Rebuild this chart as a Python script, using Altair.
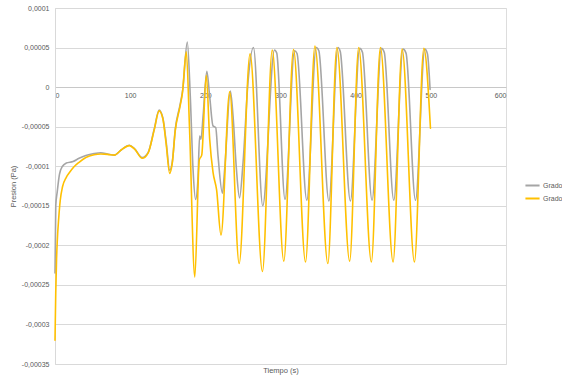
import altair as alt
import pandas as pd

SCALE = 1e-5  # values below are read in units of 1e-5 Pa

g6_t = [0, 1, 3, 6, 10, 15, 24, 32, 41, 52, 61, 70, 79, 88, 99, 106, 116, 124,
        132, 138.5, 143.5, 148, 152.5, 156, 160, 166, 170, 176, 180, 183.6, 187,
        190.2, 192.4, 194.2, 197, 202, 205.8, 210.2, 213.8, 216.9, 222.7, 225.8,
        233.3, 236.9, 241.3, 245.5, 250.2, 257, 264, 276.4, 292, 295, 306,
        318.7, 322, 335, 347.5, 351, 364.4, 376.4, 379.5, 393, 405.3, 409,
        421.8, 434.2, 438, 450.7, 463, 467, 479.6, 492, 495.5, 499]
g6_v = [-23.5, -15, -13.2, -11, -10, -9.6, -9.4, -9.0, -8.65, -8.4, -8.3, -8.45,
        -8.6, -7.95, -7.35, -7.8, -8.9, -8.25, -5.3, -2.9, -3.9, -7, -10.5, -9.5,
        -5.3, -2.4, -0.3, 5.7, -1.2, -10.3, -14.2, -11.6, -6.2, -6.6, -3.7, 2.0,
        -1.2, -4.9, -5.1, -8.7, -13.4, -10.3, -0.5, -3.7, -10.3, -14.0, -9.5,
        0.9, 5.0, -15.0, 4.7, 4.3, -14.2, 4.6, 4.25, -14.3, 5.0, 4.6, -14.4,
        5.0, 4.5, -14.4, 4.9, 4.4, -14.3, 4.9, 4.4, -14.3, 4.8, 4.3, -14.3,
        4.8, 4.2, -0.3]

g5_t = [0, 1, 2, 3, 5, 7, 10, 15, 20, 25, 32, 41, 52, 61, 70, 79, 88, 99, 106,
        116, 124, 132, 138.5, 143.5, 148, 152.5, 156, 160, 166, 169.5, 174.7,
        179, 186, 192, 195.2, 201.3, 205.8, 210.2, 215, 220.8, 232.4, 245,
        259.5, 276, 289, 304.4, 317.3, 333.3, 345.8, 363, 375, 392, 404, 420.9,
        432.9, 449.8, 461.8, 478.2, 490.7, 499.5]
g5_v = [-32, -26, -22, -19.5, -16.5, -14.3, -12.6, -11.4, -10.7, -10.1, -9.5,
        -8.9, -8.55, -8.45, -8.5, -8.6, -7.95, -7.4, -7.85, -9.0, -8.3, -5.4,
        -3.0, -4.0, -7.3, -10.9, -9.6, -5.5, -2.6, -0.75, 4.45, -5.3, -24.0,
        -9.2, -8.6, 1.5, -6.6, -10.75, -13.0, -18.7, -0.6, -22.3, 4.2, -23.3,
        4.7, -22.0, 4.75, -22.1, 5.2, -22.3, 5.0, -22.0, 5.0, -22.1, 5.0, -22.1,
        4.8, -22.1, 4.9, -5.2]

series_names = ["Grado 6", "Grado 5"]
series_colors = ["#A5A5A5", "#FFC000"]

y_ticks = [0.0001, 0.00005, 0, -0.00005, -0.0001, -0.00015, -0.0002,
           -0.00025, -0.0003, -0.00035]
x_ticks = [0, 100, 200, 300, 400, 500, 600]

rows = []
for i, (t, v) in enumerate(zip(g6_t, g6_v)):
    rows.append({"t": t, "p": v * SCALE, "s": series_names[0], "k": 0, "i": i})
for i, (t, v) in enumerate(zip(g5_t, g5_v)):
    rows.append({"t": t, "p": v * SCALE, "s": series_names[1], "k": 1, "i": i})
df = pd.DataFrame(rows)

FONT = "Liberation Sans"
LBL = "#595959"

chart = alt.Chart(df).mark_line(
    interpolate="monotone", strokeWidth=1.6, strokeJoin="round", strokeCap="round"
).encode(
    x=alt.X("t:Q",
            scale=alt.Scale(domain=[0, 600], nice=False, zero=False),
            axis=alt.Axis(values=x_ticks, title="Tiempo (s)", orient="bottom",
                          offset=-277, ticks=False, grid=False,
                          domainColor="#C8C8C8", domainWidth=1,
                          labelFontSize=7, labelColor=LBL, labelFont=FONT,
                          labelPadding=4,
                          titleFontSize=7.5, titleColor=LBL, titleFont=FONT,
                          titleFontWeight="normal", titleY=283,
                          titleBaseline="middle")),
    y=alt.Y("p:Q",
            scale=alt.Scale(domain=[-0.00035, 0.0001], nice=False, zero=False),
            axis=alt.Axis(values=y_ticks, title="Presion (Pa)", ticks=False,
                          grid=True, gridColor="#D9D9D9", gridWidth=1,
                          domainColor="#D9D9D9", domainWidth=1,
                          labelExpr="replace(toString(datum.value), '.', ',')",
                          labelFontSize=7, labelColor=LBL, labelFont=FONT,
                          labelPadding=6,
                          titleFontSize=7.5, titleColor=LBL, titleFont=FONT,
                          titleFontWeight="normal", titleX=-38)),
    color=alt.Color("s:N",
                    scale=alt.Scale(domain=series_names, range=series_colors),
                    legend=alt.Legend(title=None, orient="none", legendX=469,
                                      legendY=169, symbolType="stroke",
                                      symbolStrokeWidth=2, symbolSize=200,
                                      labelFontSize=7, labelColor=LBL,
                                      labelFont=FONT, labelOffset=2,
                                      rowPadding=0, padding=0)),
    detail="k:N",
    order="i:Q",
).properties(
    width=451, height=356,
    autosize=alt.AutoSizeParams(type="none"),
    padding={"left": 55, "top": 8, "right": 56, "bottom": 20},
).configure_view(stroke=None).configure(background="white")

chart.save("out.html", embed_options={"renderer": "svg", "actions": False})
